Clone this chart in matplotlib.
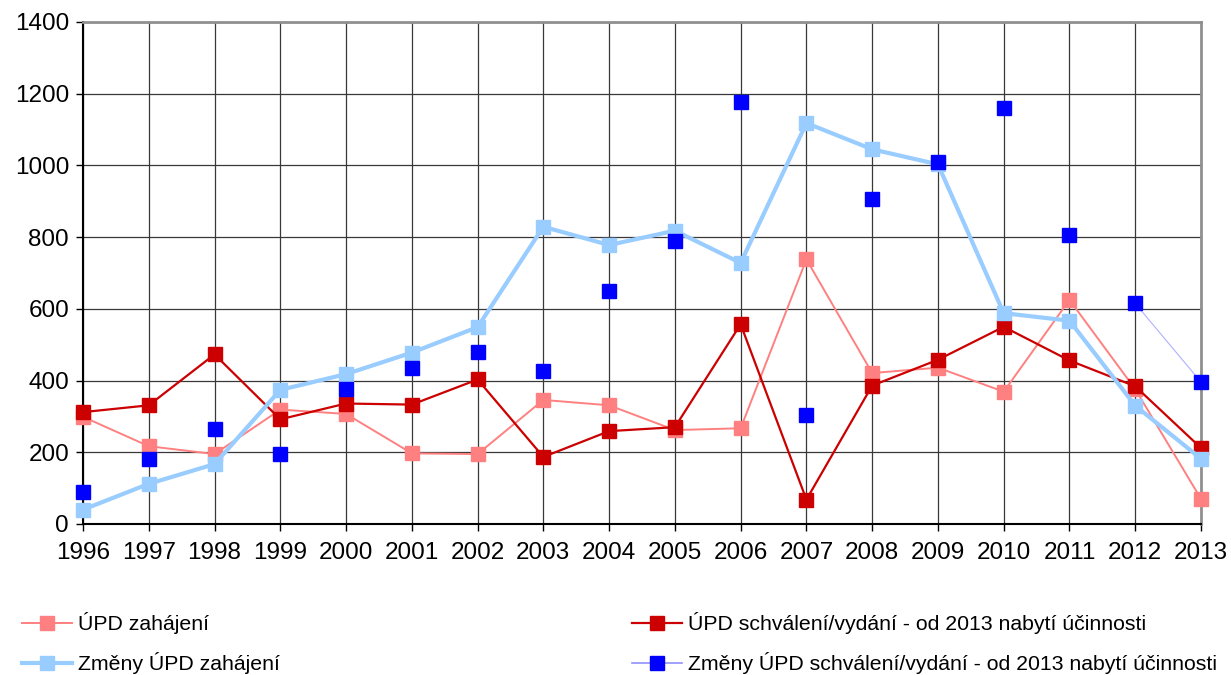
import matplotlib.pyplot as plt
import numpy as np

plt.rcParams['font.family'] = ['Liberation Sans', 'DejaVu Sans']

years = np.arange(1996, 2014)
upd_zahajeni = [299, 217, 195, 319, 307, 197, 195, 346, 331, 262, 267, 738,
                421, 436, 369, 625, 376, 70]
upd_schvaleni = [312, 331, 473, 292, 336, 333, 403, 187, 259, 270, 557, 68,
                 386, 458, 550, 456, 384, 212]
zmeny_zahajeni = [40, 112, 167, 374, 418, 478, 549, 829, 778, 818, 728, 1118,
                  1045, 1003, 588, 567, 330, 182]
zmeny_schvaleni = [88, 182, 264, 195, 376, 436, 479, 426, 650, 788, 1178, 304,
                   906, 1010, 1161, 807, 615, 396]

labels = ['ÚPD zahájení',
          'Změny ÚPD zahájení',
          'ÚPD schválení/vydání - od 2013 nabytí účinnosti',
          'Změny ÚPD schválení/vydání - od 2013 nabytí účinnosti']

fig = plt.figure(figsize=(12.31, 6.75), dpi=100)
ax = fig.add_axes([83/1231, 1 - 524/675, 1118/1231, 502/675])

ms = 10
h1, = ax.plot(years, upd_zahajeni, color='#FF8080', lw=1.4, marker='s', ms=ms,
              mec='#FF8080', clip_on=False, zorder=3)
h3, = ax.plot(years, upd_schvaleni, color='#CC0000', lw=1.6, marker='s', ms=ms,
              mec='#CC0000', clip_on=False, zorder=4)
h2, = ax.plot(years, zmeny_zahajeni, color='#99CCFF', lw=3, marker='s', ms=ms,
              mec='#99CCFF', clip_on=False, zorder=5)
# only the last segment of this series has a line
ax.plot(years[-2:], zmeny_schvaleni[-2:], color='#B0B0FF', lw=0.8, zorder=6)
ax.plot(years, zmeny_schvaleni, ls='none', marker='s', ms=ms, color='#0000FF',
        mec='#0000FF', clip_on=False, zorder=7)
h4, = ax.plot([], [], color='#9090FF', lw=1.2, marker='s', ms=ms,
              mfc='#0000FF', mec='#0000FF')

ax.set_xlim(1996, 2013)
ax.set_ylim(0, 1400)
ax.set_xticks(years)
ax.set_yticks(np.arange(0, 1401, 200))
ax.grid(True, color='#383838', lw=0.9)
ax.set_axisbelow(True)
for s in ['top', 'right']:
    ax.spines[s].set_color('#909090')
    ax.spines[s].set_linewidth(2)
for s in ['left', 'bottom']:
    ax.spines[s].set_color('black')
    ax.spines[s].set_linewidth(1.5)
ax.tick_params(labelsize=17.5, length=5, width=1, color='black')
ax.tick_params(axis='x', pad=8)
ax.tick_params(axis='y', pad=5)

leg_kw = dict(frameon=False, fontsize=15.3, handlelength=2.35, handletextpad=0.3,
              labelspacing=0.85, borderpad=0, borderaxespad=0, loc='upper left')
fig.legend([h1, h2], labels[:2], bbox_to_anchor=(22/1231, 1 - 612/675), **leg_kw)
fig.legend([h3, h4], labels[2:], bbox_to_anchor=(632/1231, 1 - 612/675), **leg_kw)

plt.savefig('out.png', dpi=100)
